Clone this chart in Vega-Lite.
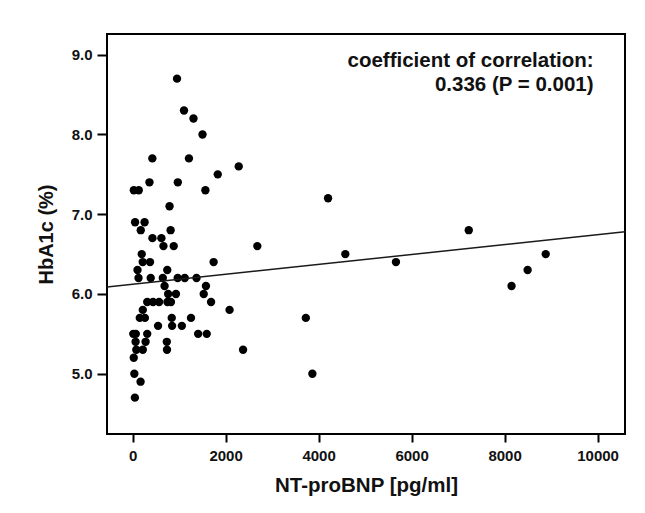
{
  "$schema": "https://vega.github.io/schema/vega-lite/v6.json",
  "width": 518,
  "height": 400,
  "autosize": {"type": "none"},
  "padding": {"left": 107, "top": 34, "right": 20, "bottom": 79},
  "background": "white",
  "config": {
    "view": {"stroke": "black", "strokeWidth": 2},
    "font": "Liberation Sans"
  },
  "layer": [
    {
      "data": {
        "values": [
          {"ntprobnp": 956, "hba1c": 8.7}, {"ntprobnp": 1106, "hba1c": 8.3}, {"ntprobnp": 1310, "hba1c": 8.2},
          {"ntprobnp": 1504, "hba1c": 8.0}, {"ntprobnp": 425, "hba1c": 7.7}, {"ntprobnp": 1212, "hba1c": 7.7},
          {"ntprobnp": 2283, "hba1c": 7.6}, {"ntprobnp": 1832, "hba1c": 7.5}, {"ntprobnp": 363, "hba1c": 7.4},
          {"ntprobnp": 973, "hba1c": 7.4}, {"ntprobnp": 27, "hba1c": 7.3}, {"ntprobnp": 133, "hba1c": 7.3},
          {"ntprobnp": 1566, "hba1c": 7.3}, {"ntprobnp": 4204, "hba1c": 7.2}, {"ntprobnp": 795, "hba1c": 7.1},
          {"ntprobnp": 54, "hba1c": 6.9}, {"ntprobnp": 258, "hba1c": 6.9}, {"ntprobnp": 176, "hba1c": 6.8},
          {"ntprobnp": 818, "hba1c": 6.8}, {"ntprobnp": 7230, "hba1c": 6.8}, {"ntprobnp": 427, "hba1c": 6.7},
          {"ntprobnp": 620, "hba1c": 6.7}, {"ntprobnp": 664, "hba1c": 6.6}, {"ntprobnp": 885, "hba1c": 6.6},
          {"ntprobnp": 2683, "hba1c": 6.6}, {"ntprobnp": 197, "hba1c": 6.5}, {"ntprobnp": 4575, "hba1c": 6.5},
          {"ntprobnp": 8885, "hba1c": 6.5}, {"ntprobnp": 218, "hba1c": 6.4}, {"ntprobnp": 375, "hba1c": 6.4},
          {"ntprobnp": 1743, "hba1c": 6.4}, {"ntprobnp": 5664, "hba1c": 6.4}, {"ntprobnp": 106, "hba1c": 6.3},
          {"ntprobnp": 746, "hba1c": 6.3}, {"ntprobnp": 8496, "hba1c": 6.3}, {"ntprobnp": 128, "hba1c": 6.2},
          {"ntprobnp": 390, "hba1c": 6.2}, {"ntprobnp": 650, "hba1c": 6.2}, {"ntprobnp": 970, "hba1c": 6.2},
          {"ntprobnp": 1122, "hba1c": 6.2}, {"ntprobnp": 1375, "hba1c": 6.2}, {"ntprobnp": 688, "hba1c": 6.1},
          {"ntprobnp": 1578, "hba1c": 6.1}, {"ntprobnp": 8150, "hba1c": 6.1}, {"ntprobnp": 765, "hba1c": 6.0},
          {"ntprobnp": 933, "hba1c": 6.0}, {"ntprobnp": 1530, "hba1c": 6.0}, {"ntprobnp": 315, "hba1c": 5.9},
          {"ntprobnp": 440, "hba1c": 5.9}, {"ntprobnp": 570, "hba1c": 5.9}, {"ntprobnp": 750, "hba1c": 5.9},
          {"ntprobnp": 825, "hba1c": 5.9}, {"ntprobnp": 1688, "hba1c": 5.9}, {"ntprobnp": 220, "hba1c": 5.8},
          {"ntprobnp": 2086, "hba1c": 5.8}, {"ntprobnp": 155, "hba1c": 5.7}, {"ntprobnp": 265, "hba1c": 5.7},
          {"ntprobnp": 842, "hba1c": 5.7}, {"ntprobnp": 1256, "hba1c": 5.7}, {"ntprobnp": 3726, "hba1c": 5.7},
          {"ntprobnp": 548, "hba1c": 5.6}, {"ntprobnp": 850, "hba1c": 5.6}, {"ntprobnp": 1060, "hba1c": 5.6},
          {"ntprobnp": 15, "hba1c": 5.5}, {"ntprobnp": 70, "hba1c": 5.5}, {"ntprobnp": 315, "hba1c": 5.5},
          {"ntprobnp": 1410, "hba1c": 5.5}, {"ntprobnp": 1595, "hba1c": 5.5}, {"ntprobnp": 65, "hba1c": 5.4},
          {"ntprobnp": 280, "hba1c": 5.4}, {"ntprobnp": 736, "hba1c": 5.4}, {"ntprobnp": 80, "hba1c": 5.3},
          {"ntprobnp": 220, "hba1c": 5.3}, {"ntprobnp": 740, "hba1c": 5.3}, {"ntprobnp": 2376, "hba1c": 5.3},
          {"ntprobnp": 25, "hba1c": 5.2}, {"ntprobnp": 38, "hba1c": 5.0}, {"ntprobnp": 3867, "hba1c": 5.0},
          {"ntprobnp": 172, "hba1c": 4.9}, {"ntprobnp": 50, "hba1c": 4.7}
        ]
      },
      "mark": {"type": "circle", "size": 70, "color": "black", "opacity": 1},
      "encoding": {
        "x": {
          "field": "ntprobnp",
          "type": "quantitative",
          "scale": {"domain": [-550, 10590], "nice": false, "zero": false},
          "axis": {
            "title": "NT-proBNP [pg/ml]",
            "values": [0, 2000, 4000, 6000, 8000, 10000],
            "format": "d",
            "grid": false,
            "domain": false,
            "tickColor": "black",
            "tickWidth": 2,
            "tickSize": 8,
            "labelFontSize": 15,
            "labelFontWeight": "bold",
            "labelColor": "#111111",
            "labelPadding": 6,
            "labelFlush": false,
            "titleFontSize": 20.5,
            "titleFontWeight": "bold",
            "titleColor": "#111111",
            "titlePadding": 12
          }
        },
        "y": {
          "field": "hba1c",
          "type": "quantitative",
          "scale": {"domain": [4.244, 9.26], "nice": false, "zero": false},
          "axis": {
            "title": "HbA1c (%)",
            "values": [5, 6, 7, 8, 9],
            "format": ".1f",
            "grid": false,
            "domain": false,
            "tickColor": "black",
            "tickWidth": 2,
            "tickSize": 10,
            "labelFontSize": 15,
            "labelFontWeight": "bold",
            "labelColor": "#111111",
            "labelPadding": 5,
            "labelFlush": false,
            "titleFontSize": 20,
            "titleFontWeight": "bold",
            "titleColor": "#111111",
            "titlePadding": 15
          }
        }
      }
    },
    {
      "data": {"values": [{"ntprobnp": -550, "hba1c": 6.088}, {"ntprobnp": 10590, "hba1c": 6.78}]},
      "mark": {"type": "line", "color": "#1a1a1a", "strokeWidth": 1.5, "clip": true},
      "encoding": {
        "x": {"field": "ntprobnp", "type": "quantitative"},
        "y": {"field": "hba1c", "type": "quantitative"}
      }
    },
    {
      "data": {"values": [{"line1": "coefficient of correlation:", "line2": "0.336 (P = 0.001)"}]},
      "mark": {
        "type": "text",
        "align": "right",
        "baseline": "alphabetic",
        "fontSize": 20.5,
        "fontWeight": "bold",
        "lineHeight": 24,
        "color": "#111111",
        "text": ["coefficient of correlation:", "0.336 (P = 0.001)"]
      },
      "encoding": {
        "x": {"datum": 9914, "type": "quantitative"},
        "y": {"datum": 8.84, "type": "quantitative"}
      }
    }
  ]
}
